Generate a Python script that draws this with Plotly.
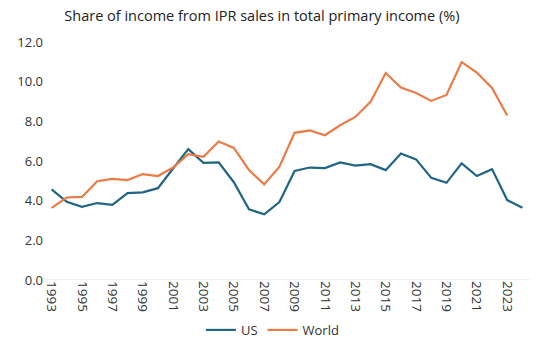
import plotly.graph_objects as go

years = list(range(1993, 2025))
us = [4.57, 3.94, 3.69, 3.88, 3.79, 4.38, 4.42, 4.63, 5.62, 6.60, 5.91, 5.93, 4.93, 3.56, 3.31, 3.93,
      5.50, 5.67, 5.64, 5.93, 5.77, 5.84, 5.54, 6.38, 6.08, 5.15, 4.90, 5.88, 5.24, 5.59, 4.03, 3.64]
world_years = list(range(1993, 2024))
world = [3.64, 4.16, 4.19, 4.98, 5.10, 5.04, 5.34, 5.24, 5.67, 6.34, 6.21, 6.98, 6.66, 5.54, 4.82, 5.71,
         7.42, 7.54, 7.30, 7.80, 8.22, 8.98, 10.44, 9.70, 9.43, 9.03, 9.33, 10.99, 10.46, 9.68, 8.29]
y_ticks = [0, 2, 4, 6, 8, 10, 12]
x_ticks = list(range(1993, 2025, 2))

font = "Open Sans"
fig = go.Figure()
fig.add_trace(go.Scatter(x=years, y=us, mode="lines", name="US",
                         line=dict(color="#1F6585", width=2.2)))
fig.add_trace(go.Scatter(x=world_years, y=world, mode="lines", name="World",
                         line=dict(color="#EB7B45", width=2.2)))

fig.update_layout(
    width=540, height=351,
    margin=dict(l=44, r=10, t=42, b=71, autoexpand=False),
    paper_bgcolor="white", plot_bgcolor="white",
    title=dict(text="Share of income from IPR sales in total primary income (%)",
               x=0.485, xanchor="center", y=0.955, yanchor="middle",
               font=dict(family=font, size=14.5, color="#222222")),
    font=dict(family=font, color="#333333"),
    showlegend=True,
    legend=dict(orientation="h", x=0.47, xanchor="center", y=-0.21, yanchor="middle",
                font=dict(family=font, size=13, color="#333333"),
                itemwidth=30, tracegroupgap=0),
    xaxis=dict(range=[1992.5, 2024.5], tickmode="array", tickvals=x_ticks,
               ticktext=[str(t) for t in x_ticks], tickangle=90, automargin=False,
               showgrid=False, zeroline=False, showline=False, ticks="",
               tickfont=dict(family=font, size=13.5, color="#333333")),
    yaxis=dict(range=[0, 12], tickmode="array", tickvals=y_ticks, automargin=False,
               ticktext=[f"{t:.1f}" for t in y_ticks],
               showgrid=False, zeroline=False, showline=False, ticks="",
               tickfont=dict(family=font, size=13, color="#333333")),
)
fig.add_hline(y=0, line=dict(color="#E3E3E3", width=1))

fig.write_html("out.html")
